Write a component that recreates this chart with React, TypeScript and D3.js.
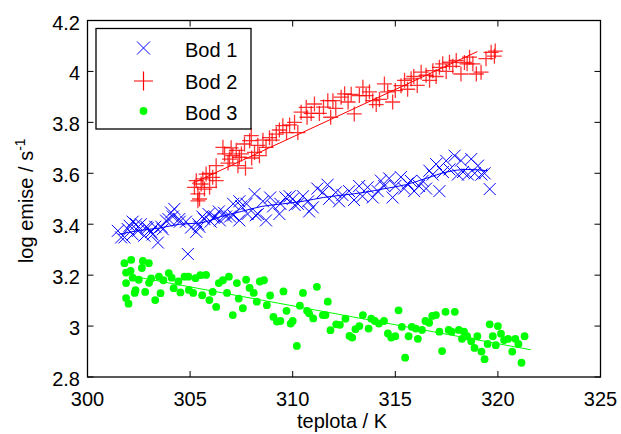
import React from "react";
import * as d3 from "d3";

const xTicks = [300, 305, 310, 315, 320, 325];
const yTicks = [2.8, 3, 3.2, 3.4, 3.6, 3.8, 4, 4.2];
const legendLabels = ["Bod 1", "Bod 2", "Bod 3"];

const bod1X = [301.48,301.64,301.8,301.96,302.05,302.2,302.2,302.37,302.46,302.6,302.77,302.87,302.93,303.1,303.17,303.3,303.43,303.6,303.67,303.83,303.95,304.07,304.16,304.23,304.47,304.5,304.8,304.89,305.05,305.3,305.4,305.45,305.6,305.7,305.9,306.0,306.15,306.2,306.4,306.45,306.65,306.75,306.95,307.1,307.1,307.4,307.4,307.5,307.75,307.8,308.14,308.2,308.3,308.55,308.7,308.9,309.05,309.35,309.4,309.65,309.85,310.0,310.1,310.25,310.5,310.75,310.8,310.98,311.2,311.46,311.7,311.78,312.1,312.26,312.42,312.75,312.99,313.24,313.4,313.65,313.9,314.14,314.3,314.46,314.7,314.87,315.0,315.27,315.43,315.6,315.76,315.92,316.16,316.33,316.5,316.66,316.82,316.99,317.15,317.32,317.48,317.64,317.89,318.05,318.2,318.3,318.54,318.7,318.87,319.03,319.2,319.35,319.6];
const bod1Y = [3.374,3.348,3.348,3.381,3.394,3.36,3.41,3.40,3.374,3.40,3.355,3.39,3.385,3.37,3.36,3.39,3.328,3.39,3.38,3.414,3.42,3.446,3.43,3.46,3.42,3.41,3.41,3.283,3.387,3.37,3.40,3.39,3.43,3.42,3.44,3.41,3.425,3.43,3.45,3.415,3.445,3.43,3.43,3.48,3.435,3.49,3.415,3.47,3.48,3.44,3.519,3.435,3.44,3.49,3.415,3.505,3.47,3.44,3.48,3.505,3.51,3.499,3.475,3.48,3.51,3.49,3.45,3.466,3.54,3.525,3.555,3.50,3.525,3.49,3.515,3.53,3.495,3.55,3.51,3.545,3.505,3.53,3.571,3.55,3.58,3.505,3.55,3.585,3.54,3.56,3.57,3.53,3.55,3.57,3.54,3.61,3.595,3.636,3.53,3.605,3.649,3.615,3.669,3.595,3.65,3.605,3.595,3.656,3.60,3.63,3.595,3.60,3.538];

const bod1LineX = [301.5, 302.5, 303.5, 304.5, 305.5, 306.5, 307.5, 308.5, 309.5, 310.5, 311.5, 312.5, 313.5, 314.5, 315.5, 316.5, 317.5, 318.5, 319.5];
const bod1LineY = [3.36, 3.375, 3.385, 3.40, 3.405, 3.43, 3.45, 3.47, 3.48, 3.49, 3.505, 3.515, 3.525, 3.54, 3.555, 3.58, 3.605, 3.615, 3.61];

const bod2X = [305.21,305.3,305.38,305.38,305.46,305.54,305.62,305.7,305.78,305.95,305.95,306.1,306.27,306.27,306.6,306.68,306.85,306.92,307.0,307.08,307.25,307.33,307.4,307.5,307.65,307.7,307.9,307.98,308.0,308.14,308.3,308.38,308.55,308.7,308.87,309.0,309.2,309.35,309.52,309.7,309.85,310.09,310.25,310.41,310.66,310.7,310.9,311.06,311.3,311.5,311.71,311.85,311.96,312.1,312.36,312.53,312.7,312.85,313.0,313.25,313.42,313.58,313.74,313.9,314.07,314.23,314.47,314.63,314.87,315.0,315.28,315.45,315.6,315.77,315.9,316.07,316.26,316.5,316.67,316.83,316.99,317.15,317.31,317.48,317.64,317.8,317.97,318.2,318.37,318.5,318.62,318.78,318.95,319.18,319.42,319.67,319.83,319.87];
const bod2Y = [3.545,3.571,3.519,3.492,3.499,3.558,3.578,3.538,3.597,3.545,3.60,3.584,3.571,3.63,3.702,3.676,3.64,3.656,3.70,3.669,3.69,3.63,3.663,3.676,3.715,3.62,3.728,3.748,3.66,3.682,3.71,3.669,3.73,3.702,3.74,3.73,3.754,3.77,3.787,3.76,3.79,3.80,3.76,3.84,3.859,3.82,3.835,3.872,3.835,3.86,3.885,3.82,3.885,3.855,3.899,3.912,3.88,3.91,3.833,3.905,3.938,3.905,3.92,3.885,3.87,3.89,3.951,3.92,3.88,3.925,3.944,3.965,3.93,3.971,3.98,3.945,3.997,3.985,3.965,4.003,3.98,4.016,4.03,4.0,4.036,4.02,4.043,3.99,4.035,4.03,4.056,4.03,3.99,3.997,4.05,4.075,4.06,4.08];

const bod2FitX = [305.1, 319.0];
const bod2FitY = [3.56, 4.078];

const bod3X = [301.8,302.13,301.88,302.1,301.88,302.2,302.5,301.88,302.0,302.34,302.3,302.81,302.7,302.99,302.65,303.1,303.0,303.48,303.7,303.3,303.56,303.96,304.1,304.2,304.43,304.53,304.73,304.92,304.94,305.15,305.26,305.5,305.78,305.59,305.94,306.1,306.27,306.4,306.6,306.89,306.8,307.08,307.28,307.37,307.57,307.73,307.9,308.1,308.25,308.4,308.6,308.74,308.9,309.06,309.23,309.4,309.55,309.7,309.9,310.0,310.2,310.35,310.5,310.7,310.8,311.0,311.18,311.47,311.6,311.71,311.84,312.12,312.3,312.57,312.77,312.9,313.06,313.25,313.42,313.7,313.83,314.0,314.2,314.45,314.64,314.8,315.0,315.16,315.32,315.48,315.65,315.8,316.0,316.1,316.3,316.47,316.65,316.8,316.98,317.15,317.28,317.45,317.6,317.75,317.9,318.1,318.25,318.35,318.5,318.7,318.86,319.0,319.2,319.35,319.5,319.6,319.75,319.9,320.0,320.15,320.3,320.5,320.7,320.85,321.0,321.15,321.3];
const bod3Y = [3.247,3.26,3.21,3.217,3.169,3.19,3.182,3.11,3.088,3.141,3.13,3.134,3.256,3.247,3.228,3.187,3.17,3.194,3.18,3.102,3.129,3.208,3.19,3.149,3.175,3.132,3.194,3.194,3.142,3.13,3.188,3.2,3.201,3.121,3.102,3.134,3.075,3.169,3.18,3.194,3.13,3.043,3.169,3.108,3.07,3.182,3.15,3.13,3.096,3.175,3.18,3.082,3.12,3.036,3.018,3.02,3.136,3.06,3.01,3.02,2.922,3.08,3.13,3.06,3.05,3.03,3.154,3.043,3.043,3.096,2.984,3.007,3.005,3.029,2.961,2.955,2.988,3.0,3.043,2.99,3.029,3.02,3.01,3.02,2.971,2.955,2.96,3.062,2.997,2.876,2.96,2.997,2.99,2.95,2.985,3.02,3.013,3.04,3.043,2.978,2.902,3.056,2.985,2.978,3.056,2.985,2.95,2.978,2.96,2.94,2.914,2.96,2.90,2.87,2.93,3.007,2.96,2.925,3.0,2.97,2.945,2.95,2.90,2.95,2.93,2.856,2.96];

const bod3FitX = [302.1, 321.6];
const bod3FitY = [3.197, 2.907];

const W = 621;
const H = 434;
const L = 87.5, R = 600.5, T = 20.5, B = 377;
const FONT = "Liberation Sans, Arial, sans-serif";
const BLUE = "#0000ff", RED = "#ff0000", GREEN = "#00ff00";

export default function App() {
  const x = d3.scaleLinear().domain([300, 325]).range([L, R]);
  const y = d3.scaleLinear().domain([2.8, 4.2]).range([B, T]);
  const line = d3.line<[number, number]>().x(d => x(d[0])).y(d => y(d[1]));
  const smooth = d3.line<[number, number]>().x(d => x(d[0])).y(d => y(d[1])).curve(d3.curveMonotoneX);

  const xs = 6, ps = 7.5, r = 3.9;
  const cross = (cx: number, cy: number, s: number) => `M${cx - s},${cy - s}L${cx + s},${cy + s}M${cx - s},${cy + s}L${cx + s},${cy - s}`;
  const plus = (cx: number, cy: number, s: number) => `M${cx - s},${cy}L${cx + s},${cy}M${cx},${cy - s}L${cx},${cy + s}`;

  const legY = [48, 81, 111];
  const legTextY = [56.5, 89, 119.5];

  return (
    <svg width={W} height={H} style={{ position: "absolute", left: 0, top: 0, background: "#fff" }} fontFamily={FONT}>
      <rect x={0} y={0} width={W} height={H} fill="#fff" />
      <path d={smooth(bod1LineX.map((v, i) => [v, bod1LineY[i]]) as [number, number][]) || ""} fill="none" stroke={BLUE} strokeWidth={1} />
      <path d={line(bod2FitX.map((v, i) => [v, bod2FitY[i]]) as [number, number][]) || ""} fill="none" stroke={RED} strokeWidth={1} />
      <path d={line(bod3FitX.map((v, i) => [v, bod3FitY[i]]) as [number, number][]) || ""} fill="none" stroke={GREEN} strokeWidth={1} />
      <g stroke={BLUE} strokeWidth={1} fill="none">
        {bod1X.map((v, i) => <path key={i} d={cross(x(v), y(bod1Y[i]), xs)} />)}
      </g>
      <g stroke={RED} strokeWidth={1.3} strokeOpacity={0.8} fill="none">
        {bod2X.map((v, i) => <path key={i} d={plus(x(v), y(bod2Y[i]), ps)} />)}
      </g>
      <g fill={GREEN}>
        {bod3X.map((v, i) => <circle key={i} cx={x(v)} cy={y(bod3Y[i])} r={r} />)}
      </g>
      <g stroke="#000" strokeWidth={1}>
        {xTicks.map(t => (
          <g key={t}>
            <line x1={x(t)} x2={x(t)} y1={B} y2={B - 6} />
            <line x1={x(t)} x2={x(t)} y1={T} y2={T + 6} />
          </g>
        ))}
        {yTicks.map(t => (
          <g key={t}>
            <line x1={L} x2={L + 6} y1={y(t)} y2={y(t)} />
            <line x1={R} x2={R - 6} y1={y(t)} y2={y(t)} />
          </g>
        ))}
      </g>
      <rect x={L} y={T} width={R - L} height={B - T} fill="none" stroke="#000" strokeWidth={1.3} />
      <g fontSize={20} fill="#000">
        {xTicks.map(t => (
          <text key={t} x={x(t)} y={406} textAnchor="middle">{d3.format("")(t)}</text>
        ))}
        {yTicks.map(t => (
          <text key={t} x={80} y={y(t) + 9} textAnchor="end">{d3.format("")(t)}</text>
        ))}
      </g>
      <text x={(L + R) / 2 - 2} y={428} textAnchor="middle" fontSize={20} fill="#000">teplota / K</text>
      <text transform={`translate(33,${(T + B) / 2 + 2}) rotate(-90)`} textAnchor="middle" fontSize={20} fill="#000">
        log emise / s<tspan dy={-8} fontSize={14}>-1</tspan>
      </text>
      <rect x={96} y={28.5} width={155} height={100.5} fill="#fff" stroke="#000" strokeWidth={1.3} />
      <path d={cross(143.5, legY[0], 6.5)} stroke={BLUE} strokeWidth={1} fill="none" />
      <path d={plus(143.5, legY[1], 9.5)} stroke={RED} strokeWidth={1.2} fill="none" />
      <circle cx={143.5} cy={legY[2]} r={r} fill={GREEN} />
      {legendLabels.map((l, i) => (
        <text key={l} x={185} y={legTextY[i]} fontSize={20} fill="#000">{l}</text>
      ))}
    </svg>
  );
}
